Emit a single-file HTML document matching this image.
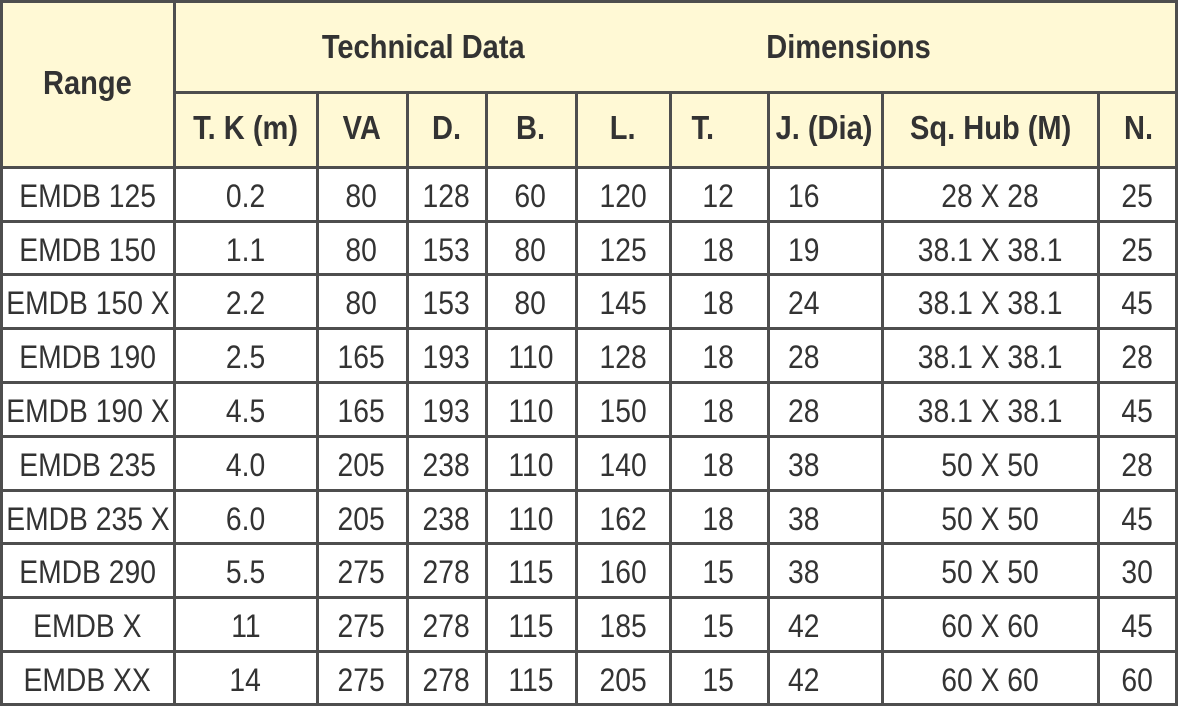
<!DOCTYPE html>
<html>
<head>
<meta charset="utf-8">
<style>
  html, body { margin:0; padding:0; background:#fff; }
  body { width:1178px; height:707px; position:relative; overflow:hidden;
         font-family:"Liberation Sans", Arial, sans-serif; color:#333; }
  .hdrbg { position:absolute; left:0; top:0; width:1177px; height:168px; background:#fff9d5; }
  .v { position:absolute; width:3px; background:#4e4e4e; }
  .h { position:absolute; height:3px; background:#4e4e4e; }
  .t { position:absolute; text-align:center; white-space:nowrap; }
  .t span { display:inline-block; }
  .hd { width:400px; font-weight:bold; font-size:33px; line-height:33px; color:#333; }
  .hd span { transform:scaleX(0.88); transform-origin:center; }
  .bd { font-size:32.5px; line-height:32.5px; color:#333; }
  .bd .t { width:240px; }
  .bd span { transform:scaleX(0.87); transform-origin:center; }
  .row { position:absolute; left:0; width:1178px; height:33px; }
  .c0 { left:-32.5px; }
  .c1 { left:125.5px; }
  .c2 { left:241.5px; }
  .c3 { left:326.5px; }
  .c4 { left:410.5px; }
  .c5 { left:503px; }
  .c6 { left:598.5px; }
  .bd .c7 { left:788px; text-align:left; }
  .bd .c7 span { transform-origin:left; }
  .c8 { left:870px; }
  .c9 { left:1017px; }
</style>
</head>
<body>
<div class="hdrbg"></div>

<!-- header text -->
<div class="t hd" style="left:223px;top:30px;"><span>Technical Data</span></div>
<div class="t hd" style="left:648.5px;top:30px;"><span>Dimensions</span></div>
<div class="t hd" style="left:-112.5px;top:65.5px;"><span>Range</span></div>
<div class="t hd" style="left:45.5px;top:111px;"><span>T. K (m)</span></div>
<div class="t hd" style="left:162px;top:111px;"><span>VA</span></div>
<div class="t hd" style="left:246px;top:111px;"><span>D.</span></div>
<div class="t hd" style="left:330px;top:111px;"><span>B.</span></div>
<div class="t hd" style="left:422.5px;top:111px;"><span>L.</span></div>
<div class="t hd" style="left:503px;top:111px;"><span>T.</span></div>
<div class="t hd" style="left:624px;top:111px;"><span>J. (Dia)</span></div>
<div class="t hd" style="left:791px;top:111px;"><span>Sq. Hub (M)</span></div>
<div class="t hd" style="left:938px;top:111px;"><span>N.</span></div>

<!-- body rows: rowTop = 167.3 + i*53.8 ; text top = rowTop + 12.5 -->
<div class="row bd" style="top:179.8px;">
  <div class="t c0"><span>EMDB 125</span></div><div class="t c1"><span>0.2</span></div><div class="t c2"><span>80</span></div><div class="t c3"><span>128</span></div><div class="t c4"><span>60</span></div><div class="t c5"><span>120</span></div><div class="t c6"><span>12</span></div><div class="t c7"><span>16</span></div><div class="t c8"><span>28 X 28</span></div><div class="t c9"><span>25</span></div>
</div>
<div class="row bd" style="top:233.6px;">
  <div class="t c0"><span>EMDB 150</span></div><div class="t c1"><span>1.1</span></div><div class="t c2"><span>80</span></div><div class="t c3"><span>153</span></div><div class="t c4"><span>80</span></div><div class="t c5"><span>125</span></div><div class="t c6"><span>18</span></div><div class="t c7"><span>19</span></div><div class="t c8"><span>38.1 X 38.1</span></div><div class="t c9"><span>25</span></div>
</div>
<div class="row bd" style="top:287.4px;">
  <div class="t c0"><span>EMDB 150 X</span></div><div class="t c1"><span>2.2</span></div><div class="t c2"><span>80</span></div><div class="t c3"><span>153</span></div><div class="t c4"><span>80</span></div><div class="t c5"><span>145</span></div><div class="t c6"><span>18</span></div><div class="t c7"><span>24</span></div><div class="t c8"><span>38.1 X 38.1</span></div><div class="t c9"><span>45</span></div>
</div>
<div class="row bd" style="top:341.2px;">
  <div class="t c0"><span>EMDB 190</span></div><div class="t c1"><span>2.5</span></div><div class="t c2"><span>165</span></div><div class="t c3"><span>193</span></div><div class="t c4"><span>110</span></div><div class="t c5"><span>128</span></div><div class="t c6"><span>18</span></div><div class="t c7"><span>28</span></div><div class="t c8"><span>38.1 X 38.1</span></div><div class="t c9"><span>28</span></div>
</div>
<div class="row bd" style="top:395px;">
  <div class="t c0"><span>EMDB 190 X</span></div><div class="t c1"><span>4.5</span></div><div class="t c2"><span>165</span></div><div class="t c3"><span>193</span></div><div class="t c4"><span>110</span></div><div class="t c5"><span>150</span></div><div class="t c6"><span>18</span></div><div class="t c7"><span>28</span></div><div class="t c8"><span>38.1 X 38.1</span></div><div class="t c9"><span>45</span></div>
</div>
<div class="row bd" style="top:448.8px;">
  <div class="t c0"><span>EMDB 235</span></div><div class="t c1"><span>4.0</span></div><div class="t c2"><span>205</span></div><div class="t c3"><span>238</span></div><div class="t c4"><span>110</span></div><div class="t c5"><span>140</span></div><div class="t c6"><span>18</span></div><div class="t c7"><span>38</span></div><div class="t c8"><span>50 X 50</span></div><div class="t c9"><span>28</span></div>
</div>
<div class="row bd" style="top:502.6px;">
  <div class="t c0"><span>EMDB 235 X</span></div><div class="t c1"><span>6.0</span></div><div class="t c2"><span>205</span></div><div class="t c3"><span>238</span></div><div class="t c4"><span>110</span></div><div class="t c5"><span>162</span></div><div class="t c6"><span>18</span></div><div class="t c7"><span>38</span></div><div class="t c8"><span>50 X 50</span></div><div class="t c9"><span>45</span></div>
</div>
<div class="row bd" style="top:556.4px;">
  <div class="t c0"><span>EMDB 290</span></div><div class="t c1"><span>5.5</span></div><div class="t c2"><span>275</span></div><div class="t c3"><span>278</span></div><div class="t c4"><span>115</span></div><div class="t c5"><span>160</span></div><div class="t c6"><span>15</span></div><div class="t c7"><span>38</span></div><div class="t c8"><span>50 X 50</span></div><div class="t c9"><span>30</span></div>
</div>
<div class="row bd" style="top:610.2px;">
  <div class="t c0"><span>EMDB X</span></div><div class="t c1"><span>11</span></div><div class="t c2"><span>275</span></div><div class="t c3"><span>278</span></div><div class="t c4"><span>115</span></div><div class="t c5"><span>185</span></div><div class="t c6"><span>15</span></div><div class="t c7"><span>42</span></div><div class="t c8"><span>60 X 60</span></div><div class="t c9"><span>45</span></div>
</div>
<div class="row bd" style="top:664px;">
  <div class="t c0"><span>EMDB XX</span></div><div class="t c1"><span>14</span></div><div class="t c2"><span>275</span></div><div class="t c3"><span>278</span></div><div class="t c4"><span>115</span></div><div class="t c5"><span>205</span></div><div class="t c6"><span>15</span></div><div class="t c7"><span>42</span></div><div class="t c8"><span>60 X 60</span></div><div class="t c9"><span>60</span></div>
</div>

<!-- horizontal lines -->
<div class="h" style="left:0;top:0;width:1177px;"></div>
<div class="h" style="left:174px;top:91px;width:1003px;"></div>
<div class="h" style="left:0;top:166px;width:1177px;"></div>
<div class="h" style="left:0;top:219.6px;width:1177px;"></div>
<div class="h" style="left:0;top:273.4px;width:1177px;"></div>
<div class="h" style="left:0;top:327.2px;width:1177px;"></div>
<div class="h" style="left:0;top:381px;width:1177px;"></div>
<div class="h" style="left:0;top:434.8px;width:1177px;"></div>
<div class="h" style="left:0;top:488.6px;width:1177px;"></div>
<div class="h" style="left:0;top:542.4px;width:1177px;"></div>
<div class="h" style="left:0;top:596.2px;width:1177px;"></div>
<div class="h" style="left:0;top:650px;width:1177px;"></div>
<div class="h" style="left:0;top:703px;width:1177px;"></div>

<!-- vertical lines -->
<div class="v" style="left:0;top:0;height:706px;"></div>
<div class="v" style="left:172.5px;top:0;height:706px;"></div>
<div class="v" style="left:315.5px;top:91px;height:615px;"></div>
<div class="v" style="left:405.5px;top:91px;height:615px;"></div>
<div class="v" style="left:485px;top:91px;height:615px;"></div>
<div class="v" style="left:574.5px;top:91px;height:615px;"></div>
<div class="v" style="left:669px;top:91px;height:615px;"></div>
<div class="v" style="left:767px;top:91px;height:615px;"></div>
<div class="v" style="left:880.5px;top:91px;height:615px;"></div>
<div class="v" style="left:1097px;top:91px;height:615px;"></div>
<div class="v" style="left:1174.5px;top:0;height:706px;"></div>
</body>
</html>
